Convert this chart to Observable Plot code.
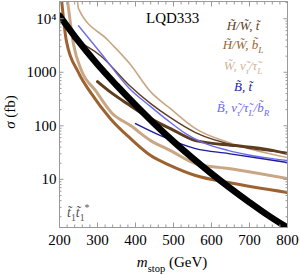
<!DOCTYPE html>
<html><head><meta charset="utf-8">
<script src="https://cdn.jsdelivr.net/npm/d3@7"></script>
<script src="https://cdn.jsdelivr.net/npm/@observablehq/plot@0.6"></script>
<style>
html,body{margin:0;padding:0;background:#fff;}
#chart svg{display:block;}
</style></head><body><div id="chart"></div>
<script>
// stop pair production cross section (fb) vs stop mass (GeV)
const stopMass  = [200, 250, 300, 350, 400, 450, 500, 550, 600, 650, 700, 750, 800];
const stopSigma = [11400, 3780, 1400, 571, 244, 109, 51, 25, 12.8, 6.8, 3.73, 2.1, 1.25];

// H/W, b_L (medium brown, thick)
const hwbMass  = [200, 218, 250, 284, 334, 387, 440, 492, 558, 645, 800];
const hwbSigma = [60000, 3890, 983, 399, 136, 57.7, 27.8, 18.1, 11.8, 8.7, 5.67];
// W, nu_tau/tau_L (tan, thick)
const wntThickMass  = [210, 221, 237, 258, 295, 337, 387, 440, 492, 558, 645, 800];
const wntThickSigma = [80000, 21700, 3300, 1070, 454, 176, 101, 52.9, 34.5, 19.7, 15.9, 10.35];
// W, nu_tau/tau_L (tan, thin)
const wntThinMass  = [243, 250, 329, 387, 440, 492, 558, 645, 800];
const wntThinSigma = [60000, 15400, 3890, 1387, 430, 209, 88.7, 48.6, 25.5];
// B, nu/tau/b_R (light blue)
const bnMass  = [250, 308, 382, 440, 492, 532, 571, 645, 800];
const bnSigma = [7400, 2320, 516, 228, 115, 71.5, 50.7, 34.5, 22.4];
// B, t (dark blue)
const btMass  = [400, 466, 558, 645, 800];
const btSigma = [110, 65.6, 37.5, 30.3, 20.6];
// H/W, t (dark brown, thick)
const hwtThickMass  = [300, 329, 382, 440, 492, 558, 663, 734, 800];
const hwtThickSigma = [668, 454, 249, 136, 88.7, 52.9, 42.7, 37.5, 30.3];
// H/W, t (dark brown, thin)
const hwtThinMass  = [234, 308, 382, 440, 492, 558, 676, 800];
const hwtThinSigma = [4240, 2040, 587, 260, 142, 74.7, 40.9, 31.6];

const xTickLabels = [200, 300, 400, 500, 600, 700, 800];
const yTickLabels = [10, 100, 1000, 10000];

const C = {hwt:"#5e3d1f", hwb:"#9c6331", wnt:"#c9a785", bt:"#1b1b9c", bn:"#6b6bee"};

const series = [
  {mass: hwbMass, sigma: hwbSigma, color: C.hwb, w: 3},
  {mass: wntThickMass, sigma: wntThickSigma, color: C.wnt, w: 3},
  {mass: wntThinMass, sigma: wntThinSigma, color: C.wnt, w: 1.6},
  {mass: hwtThinMass, sigma: hwtThinSigma, color: C.hwt, w: 1.4},
  {mass: hwtThickMass, sigma: hwtThickSigma, color: C.hwt, w: 3},
  {mass: bnMass, sigma: bnSigma, color: C.bn, w: 1.4},
  {mass: btMass, sigma: btSigma, color: C.bt, w: 1.4},
  {mass: stopMass, sigma: stopSigma, color: "#000", w: 6.5}
];
const rows = s => s.mass.map((m, i) => ({mass: m, sigma: s.sigma[i]}));

const xMinor = d3.range(200, 801, 20);
const yMinor = [];
for (const d of [1, 10, 100, 1000, 10000]) for (let k = 2; k <= 9; k++) if (d * k <= 21000) yMinor.push(d * k);

const tickStyle = {label: null, tickFormat: () => "", stroke: "#999"};
const plot = Plot.plot({
  width: 300, height: 275,
  marginLeft: 59, marginRight: 13, marginTop: 1, marginBottom: 48,
  style: {fontFamily: "'Liberation Serif', serif", fontSize: "15px", background: "#fff", color: "#000"},
  x: {domain: [200, 800]},
  y: {type: "log", domain: [1.26, 21000]},
  marks: [
    ...series.map(s => Plot.line(rows(s), {x: "mass", y: "sigma", stroke: s.color, strokeWidth: s.w, curve: "monotone-x", clip: true})),
    Plot.frame({stroke: "#999", strokeWidth: 1}),
    Plot.axisX({anchor: "bottom", ticks: xTickLabels, tickSize: 0, tickPadding: 7, label: null, fontSize: 15, tickFormat: d => String(d)}),
    Plot.axisY({anchor: "left", ticks: yTickLabels, tickSize: 0, tickPadding: 3, label: null, fontSize: 15, tickFormat: d => d === 10000 ? "10⁴" : String(d)}),
    Plot.axisX({anchor: "bottom", ticks: xMinor, tickSize: -2.5, ...tickStyle}),
    Plot.axisX({anchor: "bottom", ticks: xTickLabels, tickSize: -4.5, ...tickStyle}),
    Plot.axisX({anchor: "top", ticks: xMinor, tickSize: -2.5, ...tickStyle}),
    Plot.axisX({anchor: "top", ticks: xTickLabels, tickSize: -4.5, ...tickStyle}),
    Plot.axisY({anchor: "left", ticks: yMinor, tickSize: -2.5, ...tickStyle}),
    Plot.axisY({anchor: "left", ticks: yTickLabels, tickSize: -4.5, ...tickStyle}),
    Plot.axisY({anchor: "right", ticks: yMinor, tickSize: -2.5, ...tickStyle}),
    Plot.axisY({anchor: "right", ticks: yTickLabels, tickSize: -4.5, ...tickStyle})
  ]
});
document.getElementById("chart").appendChild(plot);

const svg = d3.select(plot);
function addText(x, y, parts, opt = {}) {
  const t = svg.append("text")
    .attr("x", x).attr("y", y)
    .attr("text-anchor", opt.anchor || "start")
    .attr("font-family", "'Liberation Serif', serif")
    .attr("font-size", opt.size || 13)
    .attr("font-style", opt.italic ? "italic" : "normal")
    .attr("fill", opt.color || "#000");
  if (opt.rotate) t.attr("transform", `rotate(-90 ${x} ${y})`);
  const size = opt.size || 13;
  let shift = 0;
  for (const [txt, kind, style] of parts) {
    const s = t.append("tspan").text(txt);
    let target = 0;
    if (kind === "sub") target = size * 0.3;
    else if (kind === "sup") target = -size * 0.4;
    if (target !== shift) { s.attr("dy", target - shift); shift = target; }
    if (kind === "sub" || kind === "sup") s.attr("font-size", size * 0.7);
    if (style === "n") s.attr("font-style", "normal");
    if (style === "i") s.attr("font-style", "italic");
  }
  return t;
}

addText(146, 23, [["LQD333"]], {size: 15});
const lx = 243;
addText(lx, 30, [["H̃/W̃, t̃"]], {anchor: "middle", italic: true, color: C.hwt});
addText(lx, 49, [["H̃/W̃, b̃"], ["L", "sub"]], {anchor: "middle", italic: true, color: C.hwb});
addText(lx, 70, [["W̃, ν̃"], ["τ", "sub"], ["/τ̃"], ["L", "sub"]], {anchor: "middle", italic: true, color: "#cbb59c"});
addText(lx, 91, [["B̃, t̃"]], {anchor: "middle", italic: true, color: C.bt});
addText(lx, 112, [["B̃, ν̃"], ["τ", "sub"], ["/τ̃"], ["L", "sub"], ["/b̃"], ["R", "sub"]], {anchor: "middle", italic: true, color: C.bn});
addText(67, 217, [["t̃"], ["1", "sub", "n"], ["t̃", ""], ["1", "sub", "n"], ["*", "sup", "n"]], {size: 14, italic: true, color: "#555"});
addText(172, 267, [["m", "", "i"], ["stop", "sub"], [" (GeV)"]], {anchor: "middle", size: 15});
addText(15, 112, [["σ", "", "i"], [" (fb)"]], {anchor: "middle", size: 15, rotate: true});
</script></body></html>
